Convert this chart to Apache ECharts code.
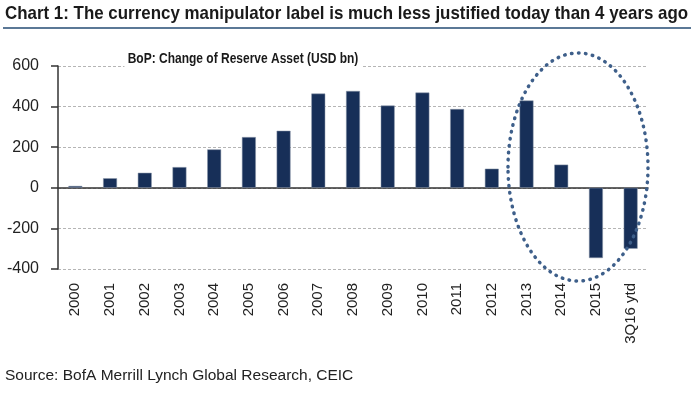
<!DOCTYPE html>
<html>
<head>
<meta charset="utf-8">
<script src="https://cdn.jsdelivr.net/npm/echarts@6/dist/echarts.min.js"></script>
<style>
  html, body { margin: 0; padding: 0; background: #fff; }
  #chart { width: 694px; height: 399px; }
</style>
</head>
<body>
<div id="chart"></div>
<script>
// BoP: change of reserve asset, USD bn
const years = ['2000', '2001', '2002', '2003', '2004', '2005', '2006', '2007', '2008',
  '2009', '2010', '2011', '2012', '2013', '2014', '2015', '3Q16 ytd']
const reserveChange = [9, 47, 74, 102, 189, 250, 281, 464, 477, 405, 469, 388, 94, 430, 114, -346, -300]
const yTicks = { min: -400, max: 600, step: 200 }

// no Arial Narrow here, so squeeze Liberation Sans bold instead
const plain = "'Liberation Sans', Arial, sans-serif"

const chart = echarts.init(document.getElementById('chart'))
chart.setOption({
  animation: false,
  backgroundColor: '#fff',
  grid: { left: 58, right: 46, top: 66, bottom: 130 },
  xAxis: [
    {
      type: 'category',
      data: years,
      position: 'bottom',
      axisLine: { show: false, onZero: false },
      axisTick: { show: false },
      axisLabel: { rotate: 90, margin: 14, fontFamily: plain, fontSize: 15, color: '#222' }
    },
    {
      type: 'category',
      data: years,
      position: 'top',
      axisLine: { onZero: true, lineStyle: { color: '#333', width: 1.5 } },
      axisTick: { inside: true, length: 6, lineStyle: { color: '#333', width: 1.5 } },
      axisLabel: { show: false }
    }
  ],
  yAxis: {
    type: 'value',
    min: yTicks.min,
    max: yTicks.max,
    interval: yTicks.step,
    axisLine: { show: true, lineStyle: { color: '#333', width: 1.5 } },
    axisTick: { show: true, length: 7, lineStyle: { color: '#333', width: 1.5 } },
    axisLabel: { margin: 19, fontFamily: plain, fontSize: 16, color: '#222' },
    splitLine: { lineStyle: { color: '#b5b5b5', type: [3, 2], width: 1 } }
  },
  series: [
    {
      type: 'bar',
      xAxisIndex: 0,
      data: reserveChange,
      barWidth: '40%',
      itemStyle: { color: '#172f58', borderColor: '#8a96a8', borderWidth: 0.5 }
    }
  ],
  graphic: [
    {
      type: 'text',
      x: 5,
      y: 4,
      scaleX: 0.89,
      style: {
        text: 'Chart 1: The currency manipulator label is much less justified today than 4 years ago',
        font: 'bold 19px ' + plain,
        fill: '#1a1a1a',
        textAlign: 'left',
        textVerticalAlign: 'top'
      }
    },
    {
      type: 'rect',
      shape: { x: 3, y: 27, width: 688, height: 2 },
      style: { fill: '#5b7896' }
    },
    {
      type: 'text',
      x: 243,
      y: 50,
      scaleX: 0.8,
      z: 50,
      style: {
        text: 'BoP: Change of Reserve Asset (USD bn)',
        font: 'bold 15px ' + plain,
        fill: '#1a1a1a',
        textAlign: 'center',
        textVerticalAlign: 'top',
        backgroundColor: '#fff',
        padding: [1, 4]
      }
    },
    {
      type: 'ellipse',
      shape: { cx: 578, cy: 167, rx: 70, ry: 114 },
      style: { fill: 'none', stroke: '#3e5f8a', lineWidth: 3.5, lineDash: [0.5, 6.5], lineCap: 'round' },
      z: 100
    },
    {
      type: 'text',
      left: 5,
      top: 368,
      style: { text: 'Source: BofA Merrill Lynch Global Research, CEIC', font: '15.5px ' + plain, fill: '#222' }
    }
  ]
})
</script>
</body>
</html>
